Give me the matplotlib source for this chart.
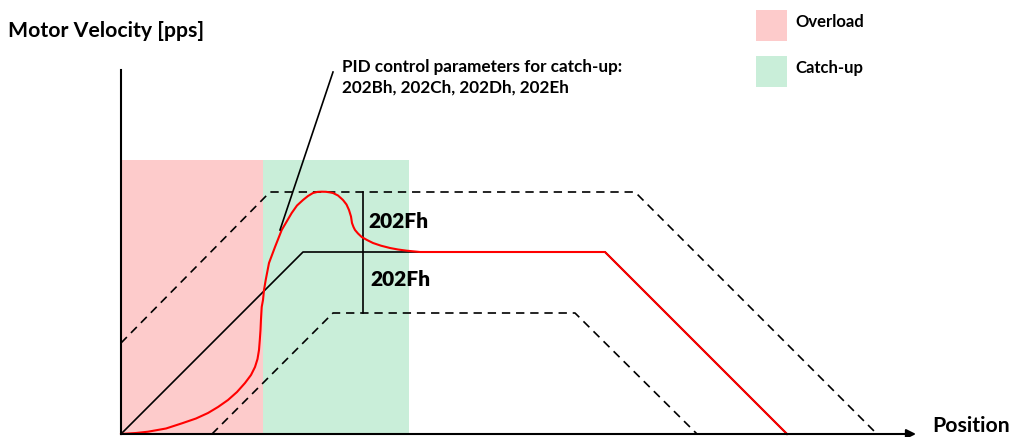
import matplotlib.pyplot as plt
from matplotlib.patches import Rectangle

# position / velocity in drawing units (origin at the axes corner)
cmd_pos = [0, 182, 484, 666]
cmd_vel = [0, 182, 182, 0]

upper_pos = [0, 149, 514, 756]
upper_vel = [91, 242, 242, 0]

lower_pos = [91, 212, 454, 576]
lower_vel = [0, 121, 121, 0]

act_pos = [0, 15, 27, 45, 61, 75, 87, 97, 107, 116, 124, 130, 134, 136.5,
           138, 138.8, 139.5, 140, 140.7, 142, 143, 144.7, 148, 154, 160.7,
           170.7, 176, 182, 187, 192, 196.5, 200.7, 205, 209, 212, 217, 222,
           225.5, 228, 230, 231, 232.5, 234, 237, 240.7, 246, 252, 260, 269,
           277, 285.7, 299, 484, 666]
act_vel = [0, 1, 2.3, 5.5, 10.7, 15.5, 21, 27, 34, 42, 51, 59, 67, 75,
           84, 94, 104, 115, 127, 134, 144, 154, 171, 187, 204,
           221, 228.5, 234, 238, 241, 242.1, 242.3, 242.2, 241.6, 241, 238.5, 234,
           229.5, 224, 217.5, 211, 207, 204, 200.5, 197, 194, 191, 188.3, 186,
           184.5, 183.3, 182, 182, 0]

overload_x = [0, 142]
catchup_x = [142, 288]
zone_top = 274

band_pos = 242
band_lo, band_mid, band_hi = 121, 182, 242

pink = '#fdcbcb'
green = '#c9eed9'

plt.rcParams['font.family'] = ['Lato', 'DejaVu Sans']

fig = plt.figure(figsize=(10.11, 4.37), dpi=100)
ax = fig.add_axes([0, 0, 1, 1])
ax.set_xlim(-121, 890)
ax.set_ylim(-3, 434)
ax.axis('off')

ax.add_patch(Rectangle((overload_x[0], 0), overload_x[1] - overload_x[0], zone_top,
                       color=pink, lw=0, zorder=1))
ax.add_patch(Rectangle((catchup_x[0], 0), catchup_x[1] - catchup_x[0], zone_top,
                       color=green, lw=0, zorder=1))

dash = (0, (5, 3.5))
ax.plot(upper_pos, upper_vel, color='black', lw=1.2, ls=dash, zorder=3)
ax.plot(lower_pos, lower_vel, color='black', lw=1.2, ls=dash, zorder=3)
ax.plot(cmd_pos, cmd_vel, color='black', lw=1.2, zorder=3)
ax.plot(act_pos, act_vel, color='#ff0000', lw=1.5, zorder=4,
        solid_joinstyle='round')

# tolerance markers
ax.plot([band_pos, band_pos], [band_lo, band_hi], color='black', lw=1.2, zorder=3)
ax.text(band_pos + 5, (band_mid + band_hi) / 2, '202Fh', fontsize=15,
        fontweight='heavy', va='center', ha='left', zorder=5)
ax.text(band_pos + 7, (band_lo + band_mid) / 2 + 3, '202Fh', fontsize=15,
        fontweight='heavy', va='center', ha='left', zorder=5)

# annotation
ax.plot([159, 212], [204, 362], color='black', lw=1.2, zorder=5)
ax.text(221, 367, 'PID control parameters for catch-up:', fontsize=12.3,
        fontweight='bold', va='center', ha='left')
ax.text(221, 346, '202Bh, 202Ch, 202Dh, 202Eh', fontsize=12.3,
        fontweight='bold', va='center', ha='left')

# axes
ax.plot([0, 0], [0, 364], color='black', lw=1.5, zorder=6)
ax.annotate('', xy=(795, 0), xytext=(0, 0),
            arrowprops=dict(arrowstyle='-|>', color='black', lw=1.5,
                            mutation_scale=14, shrinkA=0, shrinkB=0), zorder=6)
ax.text(-113, 403, 'Motor Velocity [pps]', fontsize=15.3, fontweight='bold',
        va='center', ha='left')
ax.text(811, 8, 'Position', fontsize=15.3, fontweight='bold',
        va='center', ha='left')

# legend
ax.add_patch(Rectangle((635, 393), 31, 31, color=pink, lw=0))
ax.add_patch(Rectangle((635, 347), 31, 31, color=green, lw=0))
ax.text(674, 412, 'Overload', fontsize=12, fontweight='bold', va='center', ha='left')
ax.text(674, 366, 'Catch-up', fontsize=12, fontweight='bold', va='center', ha='left')

fig.savefig('out.png', dpi=100)
